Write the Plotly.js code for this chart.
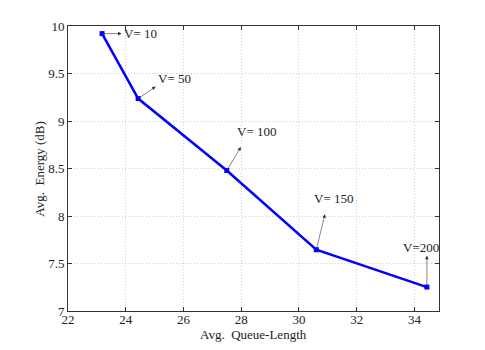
<!DOCTYPE html>
<html>
<head>
<meta charset="utf-8">
<script src="https://cdn.plot.ly/plotly-3.0.1.min.js"></script>
<style>
  html,body{margin:0;padding:0;background:#fff}
  #chart{width:485px;height:350px}
</style>
</head>
<body>
<div id="chart"></div>
<script>
// values
const queueLen=[23.18,24.43,27.5,30.6,34.43];
const energy=[9.92,9.236,8.479,7.645,7.252];
const vLabels=['V= 10','V= 50','V= 100','V= 150','V=200'];
// arrow offsets (px) from each point, and text offsets
const arrowDx=[21,19,15,9,0];
const arrowDy=[0,13,25,37,33];
const textDx=[38,36,30,17,-6];
const textDy=[0,20,39,51,40];

const serif='"Liberation Serif", "DejaVu Serif", serif';

const annotations=[];
queueLen.forEach((x,i)=>{
  annotations.push({
    x,y:energy[i],xref:'x',yref:'y',
    text:'',showarrow:true,arrowside:'start',
    ax:arrowDx[i],ay:-arrowDy[i],axref:'pixel',ayref:'pixel',
    arrowcolor:'#333',arrowwidth:0.6,arrowhead:2,startarrowhead:2,arrowsize:1.2,startarrowsize:1.2,
    standoff:0,startstandoff:0
  });
  annotations.push({
    x,y:energy[i],xref:'x',yref:'y',
    text:vLabels[i],showarrow:false,
    xshift:textDx[i],yshift:textDy[i],
    font:{family:serif,size:13,color:'#222'}
  });
});
annotations.push({
  x:0.5,y:-0.05,xref:'paper',yref:'paper',yanchor:'top',
  text:'Avg.  Queue-Length',showarrow:false,
  font:{family:serif,size:13,color:'#222'}
});
annotations.push({
  x:-0.052,y:0.5,xref:'paper',yref:'paper',xanchor:'right',
  text:'Avg.  Energy (dB)',showarrow:false,textangle:-90,
  font:{family:serif,size:13,color:'#222'}
});

const axisBase={
  showline:true,linecolor:'#333',linewidth:1,mirror:'allticks',
  ticks:'inside',ticklen:4,tickcolor:'#333',
  showgrid:true,gridcolor:'#cfcfcf',griddash:'1px,2px',gridwidth:1,
  zeroline:false,
  tickfont:{family:serif,size:13,color:'#222'}
};

Plotly.newPlot('chart',[{
  type:'scatter',mode:'lines+markers',
  x:queueLen,y:energy,
  line:{color:'#0000ff',width:2.5},
  marker:{symbol:'square',size:5,color:'#0000ff'},
  hoverinfo:'x+y'
}],{
  width:485,height:350,
  margin:{l:68,r:46,t:26,b:39},
  paper_bgcolor:'#fff',plot_bgcolor:'#fff',
  showlegend:false,
  xaxis:Object.assign({},axisBase,{range:[22,34.85],dtick:2,tick0:22,ticklabelstandoff:-4}),
  yaxis:Object.assign({},axisBase,{range:[7,10],dtick:0.5,tick0:7,ticklabelstandoff:0}),
  annotations
},{displayModeBar:false,staticPlot:true});
</script>
</body>
</html>
